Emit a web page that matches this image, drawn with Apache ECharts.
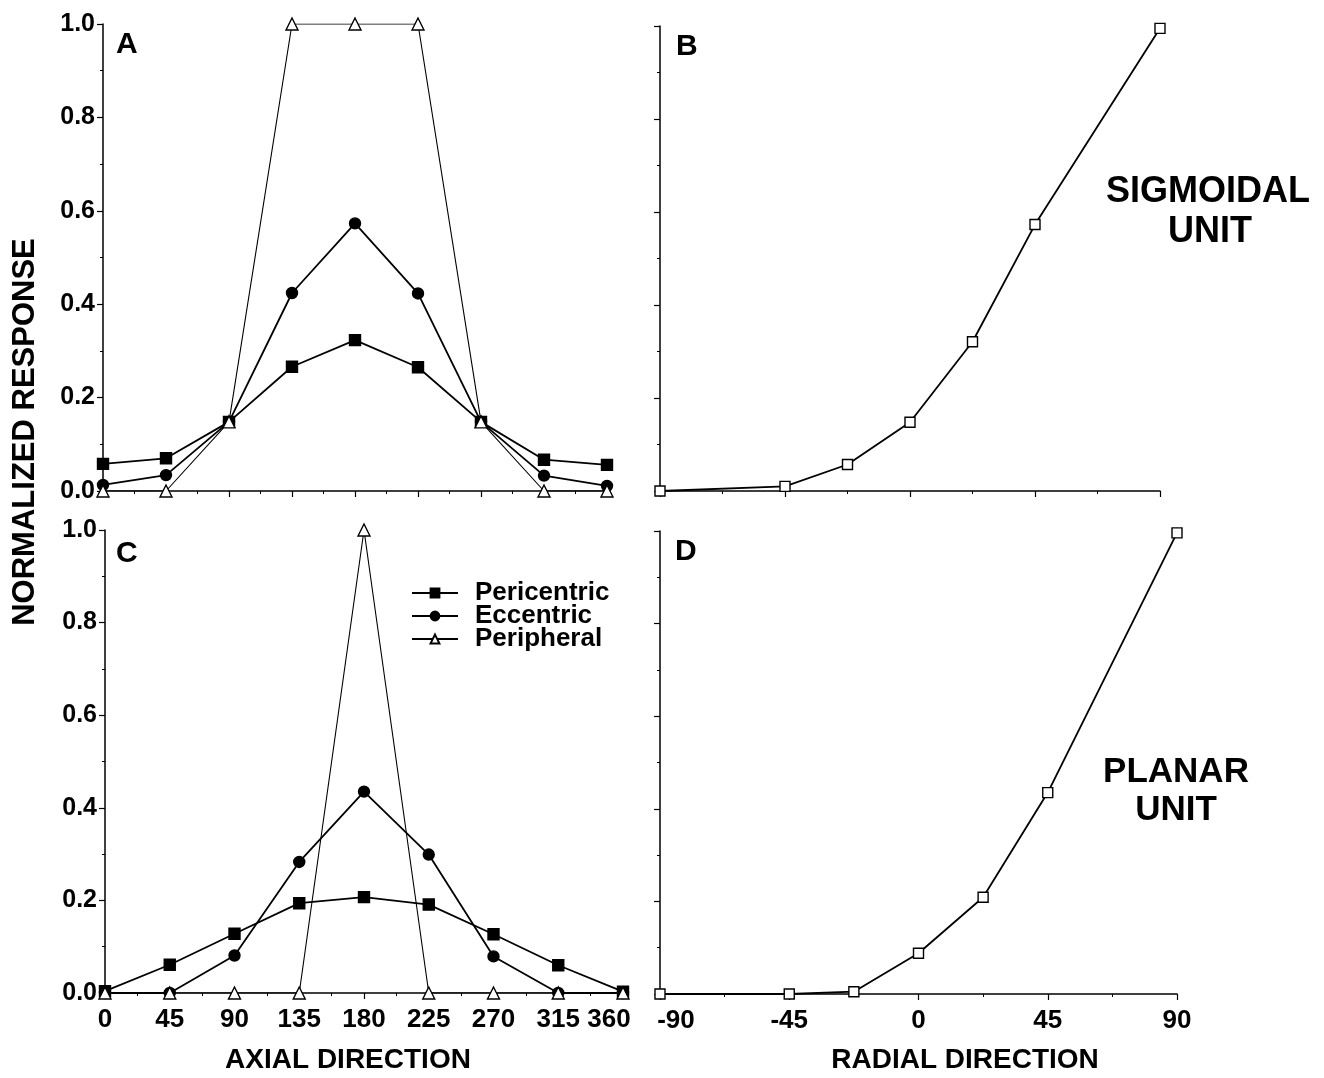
<!DOCTYPE html>
<html>
<head>
<meta charset="utf-8">
<script src="https://cdn.jsdelivr.net/npm/echarts@6/dist/echarts.min.js"></script>
<style>
  html, body { margin: 0; padding: 0; background: #fff; }
  #chart { width: 1324px; height: 1078px; }
</style>
</head>
<body>
<div id="chart"></div>
<script>
// axial direction (deg) for panels A and C
var axialDirs = [0, 45, 90, 135, 180, 225, 270, 315, 360];
// panel A - sigmoidal unit
var aPericentric = [0.058, 0.070, 0.148, 0.266, 0.323, 0.265, 0.148, 0.067, 0.056];
var aEccentric   = [0.013, 0.034, 0.148, 0.424, 0.573, 0.423, 0.148, 0.033, 0.011];
var aPeripheral  = [0, 0, 0.148, 1.0, 1.0, 1.0, 0.148, 0, 0];
// panel C - planar unit
var cPericentric = [0.004, 0.061, 0.128, 0.194, 0.207, 0.191, 0.127, 0.060, 0.003];
var cEccentric   = [0, 0, 0.081, 0.283, 0.435, 0.299, 0.079, 0, 0];
var cPeripheral  = [0, 0, 0, 0, 1.0, 0, 0, 0, 0];
// radial direction (deg) for panels B and D
var radialDirs = [-90, -45, -22.5, 0, 22.5, 45, 90];
var bResponse = [0, 0.010, 0.057, 0.148, 0.321, 0.573, 0.995];
var dResponse = [0, 0, 0.005, 0.088, 0.209, 0.435, 0.996];

var yTicks = ['0.0', '0.2', '0.4', '0.6', '0.8', '1.0'];
var axialTicks = ['0', '45', '90', '135', '180', '225', '270', '315', '360'];
var radialTicks = ['-90', '-45', '0', '45', '90'];

var FONT = '"Liberation Sans", Arial, Helvetica, sans-serif';

function pairs(xs, ys) {
  return xs.map(function (x, i) { return [x, ys[i]]; });
}

var lineAxis = { onZero: false, lineStyle: { color: '#000', width: 1.5 } };
var tickFont = { color: '#000', fontFamily: FONT, fontWeight: 'bold', fontSize: 26 };

function xAxisCfg(grid, min, max, interval, labels, showLabels) {
  return {
    type: 'value', gridIndex: grid, min: min, max: max, interval: interval,
    axisLine: lineAxis,
    axisTick: { show: true, length: 6, lineStyle: { color: '#000', width: 1.2 } },
    minorTick: { show: true, splitNumber: 2, length: 3, lineStyle: { color: '#000', width: 1 } },
    splitLine: { show: false },
    axisLabel: Object.assign({
      show: showLabels, margin: 14,
      // end labels sit a little inward so 360 and -90 do not touch
      rich: {
        r: Object.assign({ padding: [0, 28, 0, 0] }, tickFont),
        l: Object.assign({ padding: [0, 0, 0, 32] }, tickFont)
      },
      formatter: function (v) {
        var s = String(v);
        if (labels.indexOf(s) < 0) return '';
        if (s === '360') return '{r|' + s + '}';
        if (s === '-90') return '{l|' + s + '}';
        return s;
      }
    }, tickFont)
  };
}

function yAxisCfg(grid, showLabels) {
  return {
    type: 'value', gridIndex: grid, min: 0, max: 1, interval: 0.2,
    axisLine: lineAxis,
    axisTick: { show: true, length: 6, lineStyle: { color: '#000', width: 1.2 } },
    minorTick: { show: true, splitNumber: 2, length: 3, lineStyle: { color: '#000', width: 1 } },
    splitLine: { show: false },
    axisLabel: {
      show: showLabels, margin: 8, color: '#000', fontFamily: FONT, fontWeight: 'bold', fontSize: 25,
      formatter: function (v) { return yTicks[Math.round(v * 5)]; }
    }
  };
}

function series(name, grid, xs, ys, symbol, filled, width) {
  return {
    name: name, type: 'line', xAxisIndex: grid, yAxisIndex: grid,
    data: pairs(xs, ys),
    symbol: symbol, symbolSize: filled ? 11 : (symbol === 'triangle' ? 12 : 10),
    showAllSymbol: true,
    lineStyle: { color: '#000', width: width },
    itemStyle: { color: filled ? '#000' : '#fff', borderColor: '#000', borderWidth: 1.4 },
    emphasis: { disabled: true },
    z: 3
  };
}

var chart = echarts.init(document.getElementById('chart'));
var bold = { fontFamily: FONT, fontWeight: 'bold', fill: '#000' };

chart.setOption({
  backgroundColor: '#fff',
  animation: false,
  grid: [
    { left: 103, top: 24, width: 504, height: 467 },
    { left: 660, top: 26, width: 500, height: 465 },
    { left: 105, top: 530, width: 518, height: 463 },
    { left: 660, top: 531, width: 517, height: 463 }
  ],
  xAxis: [
    xAxisCfg(0, 0, 360, 45, axialTicks, false),
    xAxisCfg(1, -90, 90, 45, radialTicks, false),
    xAxisCfg(2, 0, 360, 45, axialTicks, true),
    xAxisCfg(3, -90, 90, 45, radialTicks, true)
  ],
  yAxis: [yAxisCfg(0, true), yAxisCfg(1, false), yAxisCfg(2, true), yAxisCfg(3, false)],
  legend: {
    data: ['Pericentric', 'Eccentric', 'Peripheral'],
    orient: 'vertical', left: 411, top: 580, padding: 0,
    itemWidth: 46, itemHeight: 11, itemGap: -3,
    textStyle: { color: '#000', fontFamily: FONT, fontWeight: 'bold', fontSize: 26, lineHeight: 23, padding: [0, 0, 0, 12] },
    selectedMode: false
  },
  series: [
    series('Pericentric', 0, axialDirs, aPericentric, 'rect', true, 1.8),
    series('Eccentric', 0, axialDirs, aEccentric, 'circle', true, 1.8),
    series('Peripheral', 0, axialDirs, aPeripheral, 'triangle', false, 1.1),
    series('Sigmoidal', 1, radialDirs, bResponse, 'rect', false, 1.8),
    series('Pericentric', 2, axialDirs, cPericentric, 'rect', true, 1.8),
    series('Eccentric', 2, axialDirs, cEccentric, 'circle', true, 1.8),
    series('Peripheral', 2, axialDirs, cPeripheral, 'triangle', false, 1.1),
    series('Planar', 3, radialDirs, dResponse, 'rect', false, 1.8)
  ],
  graphic: [
    { type: 'text', left: 116, top: 30, style: Object.assign({ text: 'A', fontSize: 30 }, bold) },
    { type: 'text', left: 676, top: 32, style: Object.assign({ text: 'B', fontSize: 30 }, bold) },
    { type: 'text', left: 116, top: 539, style: Object.assign({ text: 'C', fontSize: 30 }, bold) },
    { type: 'text', left: 675, top: 537, style: Object.assign({ text: 'D', fontSize: 30 }, bold) },
    { type: 'text', x: 1208, y: 192, style: Object.assign({ text: 'SIGMOIDAL', fontSize: 36, align: 'center', verticalAlign: 'middle' }, bold) },
    { type: 'text', x: 1210, y: 232, style: Object.assign({ text: 'UNIT', fontSize: 36, align: 'center', verticalAlign: 'middle' }, bold) },
    { type: 'text', x: 1176, y: 772, style: Object.assign({ text: 'PLANAR', fontSize: 35, align: 'center', verticalAlign: 'middle' }, bold) },
    { type: 'text', x: 1176, y: 810, style: Object.assign({ text: 'UNIT', fontSize: 35, align: 'center', verticalAlign: 'middle' }, bold) },
    { type: 'text', x: 348, y: 1060, style: Object.assign({ text: 'AXIAL DIRECTION', fontSize: 28, align: 'center', verticalAlign: 'middle' }, bold) },
    { type: 'text', x: 965, y: 1060, style: Object.assign({ text: 'RADIAL DIRECTION', fontSize: 28, align: 'center', verticalAlign: 'middle' }, bold) },
    { type: 'text', x: 25, y: 432, rotation: Math.PI / 2, style: Object.assign({ text: 'NORMALIZED RESPONSE', fontSize: 31, align: 'center', verticalAlign: 'middle' }, bold) }
  ]
});
</script>
</body>
</html>
